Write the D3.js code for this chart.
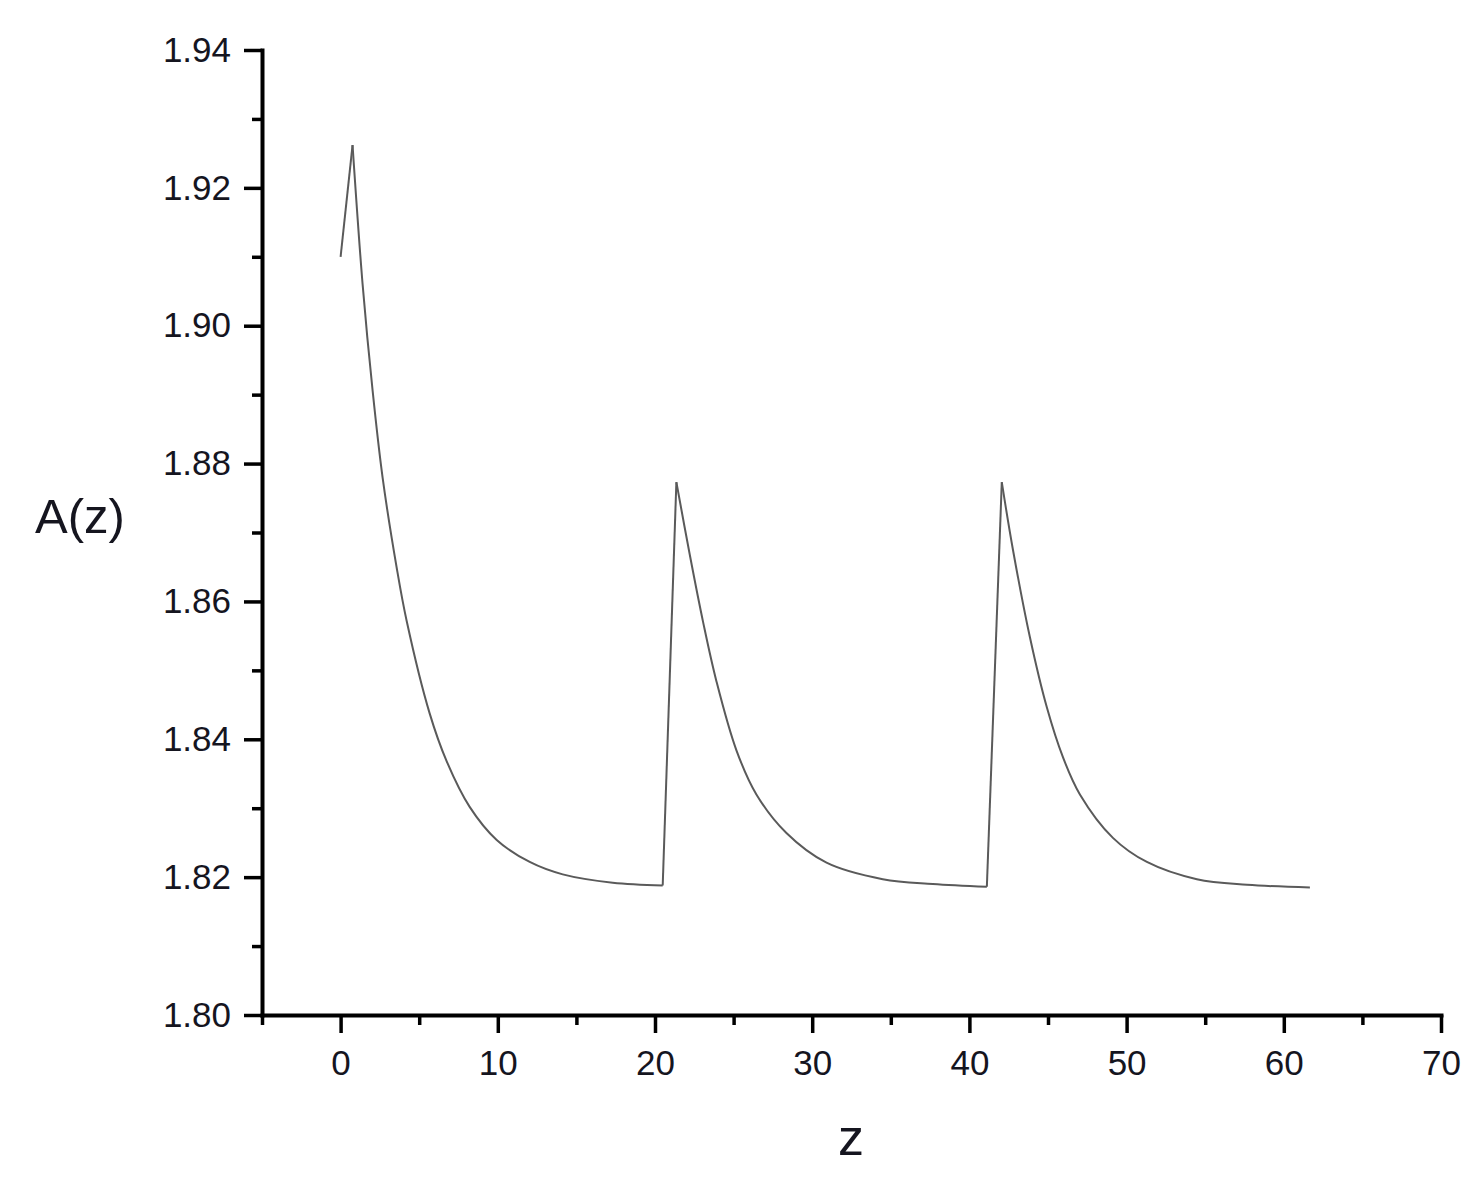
<!DOCTYPE html>
<html>
<head>
<meta charset="utf-8">
<script src="https://cdn.jsdelivr.net/npm/d3@7"></script>
<style>
  body { margin: 0; background: #fff; }
  svg { display: block; font-family: "Liberation Sans", Arial, sans-serif; }
</style>
</head>
<body>
<svg id="chart" width="1476" height="1183"></svg>
<script>
// Data: z and A(z), three decaying pulses
const zValues = [
  0, 0.76, 1.40, 2.04, 2.67, 3.56, 4.20, 5.66, 6.75, 8.21, 9.93, 12.03, 14.13, 17.31, 20.49,
  21.36, 22.21, 23.06, 23.91, 25.18, 26.45, 28.36, 30.91, 34.49, 37.67, 41.11,
  42.06, 42.77, 43.85, 44.93, 45.95, 47.03, 49.13, 51.29, 54.47, 57.66, 61.66
];
const aValues = [
  1.9100, 1.9262, 1.9060, 1.8905, 1.8780, 1.8650, 1.8572, 1.8438, 1.8368, 1.8302, 1.8254, 1.8222, 1.8204, 1.8192, 1.8188,
  1.8773, 1.8668, 1.8570, 1.8484, 1.8384, 1.8320, 1.8264, 1.8221, 1.8197, 1.8190, 1.8186,
  1.8773, 1.8675, 1.8548, 1.8446, 1.8374, 1.8320, 1.8257, 1.8222, 1.8197, 1.8189, 1.8185
];

const xMajorTicks = [0, 10, 20, 30, 40, 50, 60, 70];
const xMinorTicks = [-5, 5, 15, 25, 35, 45, 55, 65];
const yMajorTicks = [1.80, 1.82, 1.84, 1.86, 1.88, 1.90, 1.92, 1.94];
const yMinorTicks = [1.81, 1.83, 1.85, 1.87, 1.89, 1.91, 1.93];

const xLabel = "z";
const yLabel = "A(z)";

// Scales
const xScale = d3.scaleLinear().domain([-5, 70]).range([262, 1441]);
const yScale = d3.scaleLinear().domain([1.80, 1.94]).range([1015, 50]);

const svg = d3.select("#chart");
const axisColor = "#000";
const labelColor = "#15151f";

// Minor ticks first so the major axis draws over them
svg.append("g")
  .attr("transform", `translate(0, ${yScale(1.80)})`)
  .call(d3.axisBottom(xScale).tickValues(xMinorTicks).tickSize(10).tickFormat(""))
  .call(g => g.select(".domain").remove())
  .call(g => g.selectAll("line").attr("stroke", axisColor).attr("stroke-width", 3.5));

svg.append("g")
  .attr("transform", `translate(${xScale(-5)}, 0)`)
  .call(d3.axisLeft(yScale).tickValues(yMinorTicks).tickSize(10).tickFormat(""))
  .call(g => g.select(".domain").remove())
  .call(g => g.selectAll("line").attr("stroke", axisColor).attr("stroke-width", 3.5));

// Major x axis
svg.append("g")
  .attr("class", "axis--x")
  .attr("transform", `translate(0, ${yScale(1.80)})`)
  .call(d3.axisBottom(xScale).tickValues(xMajorTicks).tickSize(18).tickPadding(17).tickSizeOuter(0).tickFormat(d3.format("d")))
  .call(g => g.select(".domain").attr("stroke", axisColor).attr("stroke-width", 4).attr("stroke-linecap", "square"))
  .call(g => g.selectAll("line").attr("stroke", axisColor).attr("stroke-width", 3.5))
  .call(g => g.selectAll("text").attr("fill", labelColor).style("font-size", "35px"));

// Major y axis
svg.append("g")
  .attr("class", "axis--y")
  .attr("transform", `translate(${xScale(-5)}, 0)`)
  .call(d3.axisLeft(yScale).tickValues(yMajorTicks).tickSize(18).tickPadding(13).tickSizeOuter(0).tickFormat(d3.format(".2f")))
  .call(g => g.select(".domain").attr("stroke", axisColor).attr("stroke-width", 4).attr("stroke-linecap", "square"))
  .call(g => g.selectAll("line").attr("stroke", axisColor).attr("stroke-width", 3.5))
  .call(g => g.selectAll("text").attr("fill", labelColor).style("font-size", "35px"));

// Split the series into monotone pieces so peaks stay sharp
const points = zValues.map((z, i) => ({ z, a: aValues[i] }));
const pieces = [];
let current = [points[0]];
let dir = 0;
for (let i = 1; i < points.length; i++) {
  const d = Math.sign(points[i].a - points[i - 1].a);
  if (dir !== 0 && d !== 0 && d !== dir) {
    pieces.push(current);
    current = [points[i - 1]];
  }
  if (d !== 0) dir = d;
  current.push(points[i]);
}
pieces.push(current);

const line = d3.line()
  .x(d => xScale(d.z))
  .y(d => yScale(d.a))
  .curve(d3.curveCatmullRom.alpha(0.5));

svg.append("g")
  .selectAll("path")
  .data(pieces)
  .join("path")
    .attr("d", line)
    .attr("fill", "none")
    .attr("stroke", "#5a5a5a")
    .attr("stroke-width", 2)
    .attr("stroke-linejoin", "miter");

// Axis titles
svg.append("text")
  .attr("x", 80)
  .attr("y", 533)
  .attr("text-anchor", "middle")
  .attr("fill", labelColor)
  .style("font-size", "49px")
  .text(yLabel);

svg.append("text")
  .attr("x", 851)
  .attr("y", 1155)
  .attr("text-anchor", "middle")
  .attr("fill", labelColor)
  .style("font-size", "52px")
  .text(xLabel);
</script>
</body>
</html>
